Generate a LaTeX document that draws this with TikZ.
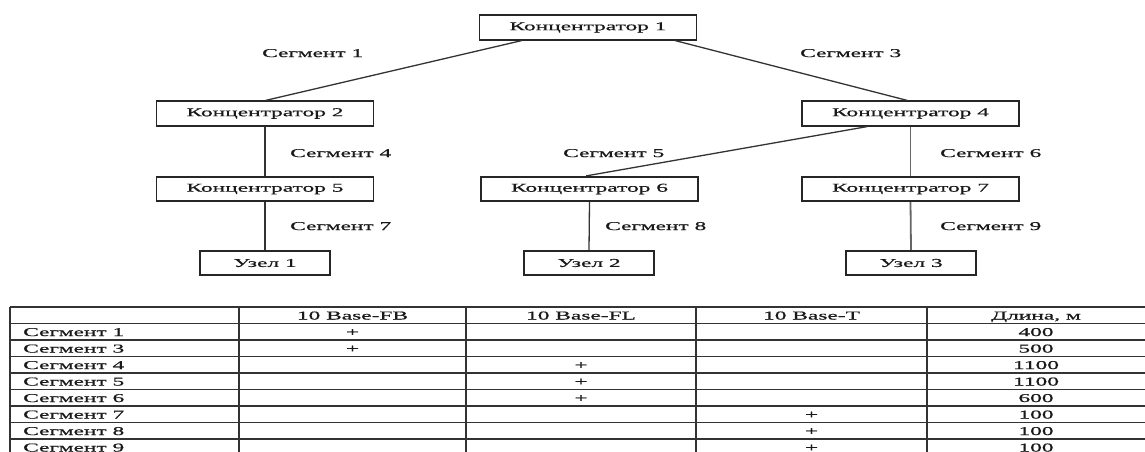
\documentclass[tikz,border=0pt]{standalone}
\usepackage{fontspec}
\setmainfont[FakeStretch=1.95,FakeBold=0.7]{Liberation Serif}
\usetikzlibrary{calc}
\begin{document}
\begin{tikzpicture}[x=1pt,y=-1pt,
  txt/.style={font=\fontsize{12}{13}\selectfont, text=black!90},
  hub/.style={txt, draw=black!85, line width=1.7pt, inner sep=0pt,
              minimum width=217pt, minimum height=24.5pt},
  host/.style={hub, minimum width=130pt},
  lbl/.style={txt, inner sep=0pt, anchor=base west},
  link/.style={draw=black!80, line width=1.3pt},
  rule/.style={draw=black!80, line width=1.6pt},
  cell/.style={txt, inner sep=0pt, anchor=base}]
\useasboundingbox (0,0) rectangle (1145,452);

% hubs and end nodes
\node[hub]  (k1) at (588,27.5)   {Концентратор 1};
\node[hub]  (k2) at (265,113.5)  {Концентратор 2};
\node[hub]  (k4) at (910.5,113.5){Концентратор 4};
\node[hub]  (k5) at (265,189)    {Концентратор 5};
\node[hub]  (k6) at (589.5,189)  {Концентратор 6};
\node[hub]  (k7) at (910.5,189)  {Концентратор 7};
\node[host] (u1) at (265,263)    {Узел 1};
\node[host] (u2) at (589,263)    {Узел 2};
\node[host] (u3) at (911,263)    {Узел 3};

% segments
\draw[link] ($(k1.south west)+(43,0)$) -- ($(k2.north west)+(110,0)$);
\draw[link] ($(k1.south west)+(196.5,0)$) -- ($(k4.north west)+(106,0)$);
\draw[link] (k2.south) -- (k5.north);
\draw[link] ($(k4.south west)+(66,0)$) -- ($(k6.north west)+(106,0)$);
\draw[link, draw=black!60, line width=1.8pt] (k4.south) -- (k7.north);
\draw[link] (k5.south) -- (u1.north);
\draw[link] (k6.south) -- (u2.north);
\draw[link, draw=black!60, line width=1.8pt] (k7.south) -- (u3.north);

% segment labels
\node[lbl] (s1) at (262,57)  {Сегмент 1};
\node[lbl] (s3) at (800,57)  {Сегмент 3};
\node[lbl] (s4) at (290,157) {Сегмент 4};
\node[lbl] (s5) at (563,157) {Сегмент 5};
\node[lbl] (s6) at (940,157) {Сегмент 6};
\node[lbl] (s7) at (290,230) {Сегмент 7};
\node[lbl] (s8) at (605,230) {Сегмент 8};
\node[lbl] (s9) at (940,230) {Сегмент 9};

% table grid
\foreach \k in {0,...,9}
  \draw[rule] (10,{307+16.5*\k}) -- (1145,{307+16.5*\k});
\foreach \cx in {10,239,466,696,927}
  \draw[rule, line width=1.9pt] (\cx,307) -- (\cx,460);

% header row
\node[cell] (h1) at (352.5,319.5)  {10 Base-FB};
\node[cell] (h2) at (581,319.5)    {10 Base-FL};
\node[cell] (h3) at (811.5,319.5)  {10 Base-T};
\node[cell] (h4) at (1036,319.5)   {Длина, м};

% body rows: label / column of the mark / length
\foreach \lab/\col/\len [count=\r] in
  {1/352.5/400, 3/352.5/500, 4/581/1100, 5/581/1100, 6/581/600,
   7/811.5/100, 8/811.5/100, 9/811.5/100} {
  \node[cell, anchor=base west] (n\r) at (23,{319.5+16.5*\r}) {Сегмент \lab};
  \node[cell] (p\r) at (\col,{319.5+16.5*\r}) {+};
  \node[cell] (l\r) at (1036,{319.5+16.5*\r}) {\len};
}
\end{tikzpicture}
\end{document}
